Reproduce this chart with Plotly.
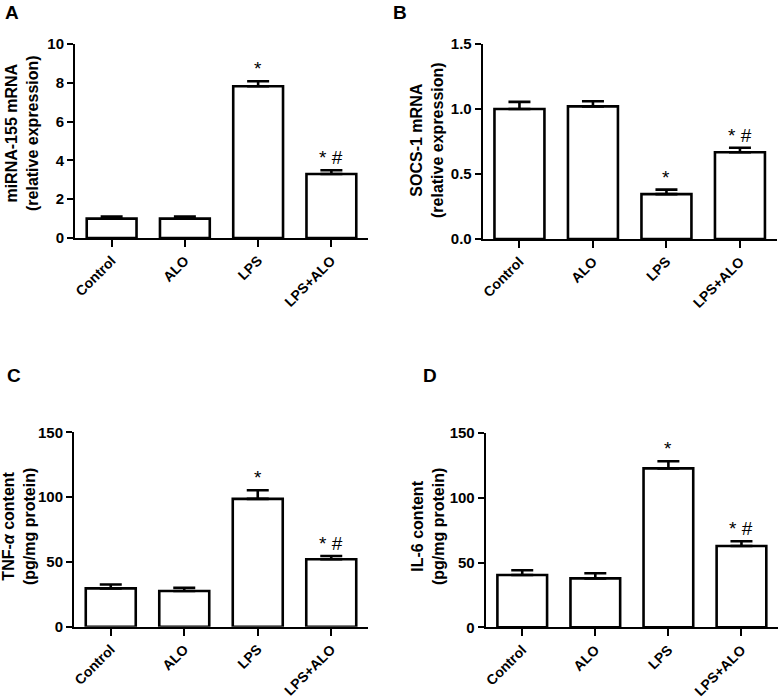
import plotly.graph_objects as go

categories = ["Control", "ALO", "LPS", "LPS+ALO"]

mir155_vals = [1.0, 1.0, 7.82, 3.30]
mir155_err = [0.10, 0.10, 0.26, 0.19]

socs1_vals = [1.00, 1.02, 0.345, 0.667]
socs1_err = [0.055, 0.040, 0.035, 0.035]

tnf_vals = [29.6, 27.5, 98.6, 52.0]
tnf_err = [3.0, 2.6, 6.7, 2.6]

il6_vals = [40.4, 37.8, 122.7, 62.8]
il6_err = [3.6, 3.9, 5.5, 3.6]

sig_labels = ["", "", "*", "* #"]

panels = [
    dict(letter="A", vals=mir155_vals, errs=mir155_err, ytitle="miRNA-155 mRNA<br>(relative expression)",
         yrange=[0, 10], ytick=[0, 2, 4, 6, 8, 10], fmt="", xdom=[75, 368], ydom=[44, 238],
         title_x=22, title_y=133, letter_xy=(12, 12)),
    dict(letter="B", vals=socs1_vals, errs=socs1_err, ytitle="SOCS-1 mRNA<br>(relative expression)",
         yrange=[0, 1.5], ytick=[0, 0.5, 1.0, 1.5], fmt=".1f", xdom=[482.7, 776.7], ydom=[44, 239],
         title_x=427, title_y=140, letter_xy=(400, 12)),
    dict(letter="C", vals=tnf_vals, errs=tnf_err, ytitle="TNF-<i>α</i> content<br>(pg/mg protein)",
         yrange=[0, 150], ytick=[0, 50, 100, 150], fmt="", xdom=[74, 368], ydom=[432.3, 626.7],
         title_x=19, title_y=527, letter_xy=(14, 375)),
    dict(letter="D", vals=il6_vals, errs=il6_err, ytitle="IL-6 content<br>(pg/mg protein)",
         yrange=[0, 150], ytick=[0, 50, 100, 150], fmt="", xdom=[485.7, 778], ydom=[433, 627.3],
         title_x=428, title_y=527, letter_xy=(430, 375)),
]

W, H = 780, 699
FONT = "Liberation Sans, Arial, sans-serif"


def px_x(v):
    return v / W


def px_y(v):
    return 1 - v / H


fig = go.Figure()
layout = dict(
    width=W, height=H, margin=dict(l=0, r=0, t=0, b=0, pad=0),
    paper_bgcolor="white", plot_bgcolor="white", showlegend=False,
    font=dict(family=FONT, color="black"), template="none",
)
annotations = []

for i, p in enumerate(panels):
    n = "" if i == 0 else str(i + 1)
    xa, ya = "x" + n, "y" + n
    fig.add_trace(go.Bar(
        x=categories, y=p["vals"], xaxis=xa, yaxis=ya, width=0.68,
        marker=dict(color="white", line=dict(color="black", width=2.6)),
        error_y=dict(type="data", symmetric=False, array=p["errs"], arrayminus=[0] * 4,
                     color="black", thickness=2.6, width=11),
        hoverinfo="skip", cliponaxis=False,
    ))
    layout["xaxis" + n] = dict(
        domain=[px_x(p["xdom"][0]), min(1, px_x(p["xdom"][1]))], anchor=ya, type="category",
        range=[-0.5, 3.5], showline=True, linecolor="black", linewidth=2,
        ticks="outside", ticklen=7, tickwidth=2, tickcolor="black", tickangle=-45,
        tickfont=dict(family=FONT, size=14, color="black", weight="bold"),
        showgrid=False, zeroline=False, fixedrange=True, automargin=False,
    )
    layout["yaxis" + n] = dict(
        domain=[px_y(p["ydom"][1]), px_y(p["ydom"][0])], anchor=xa,
        range=p["yrange"], tickvals=p["ytick"], tickformat=p["fmt"],
        showline=True, linecolor="black", linewidth=2,
        ticks="outside", ticklen=6, tickwidth=2, tickcolor="black",
        tickfont=dict(family=FONT, size=15, color="black", weight="bold"),
        showgrid=False, zeroline=False, fixedrange=True, automargin=False,
    )
    annotations.append(dict(
        text="<b>" + p["ytitle"] + "</b>", xref="paper", yref="paper",
        x=px_x(p["title_x"]), y=px_y(p["title_y"]), xanchor="center", yanchor="middle",
        textangle=-90, showarrow=False, font=dict(family=FONT, size=16, color="black"),
    ))
    annotations.append(dict(
        text="<b>" + p["letter"] + "</b>", xref="paper", yref="paper",
        x=px_x(p["letter_xy"][0]), y=px_y(p["letter_xy"][1]), xanchor="center", yanchor="middle",
        showarrow=False, font=dict(family=FONT, size=19, color="black"),
    ))
    for c, v, e, s in zip(categories, p["vals"], p["errs"], sig_labels):
        if s:
            annotations.append(dict(
                text=s, xref=xa, yref=ya, x=c, y=v + e, xanchor="center", yanchor="bottom",
                yshift=0, showarrow=False, font=dict(family=FONT, size=19, color="black"),
            ))

layout["annotations"] = annotations
fig.update_layout(**layout)
fig.write_html(
    "out.html",
    config={"displayModeBar": False, "staticPlot": True},
    post_script="document.body.style.margin='0';document.body.style.padding='0';",
)
